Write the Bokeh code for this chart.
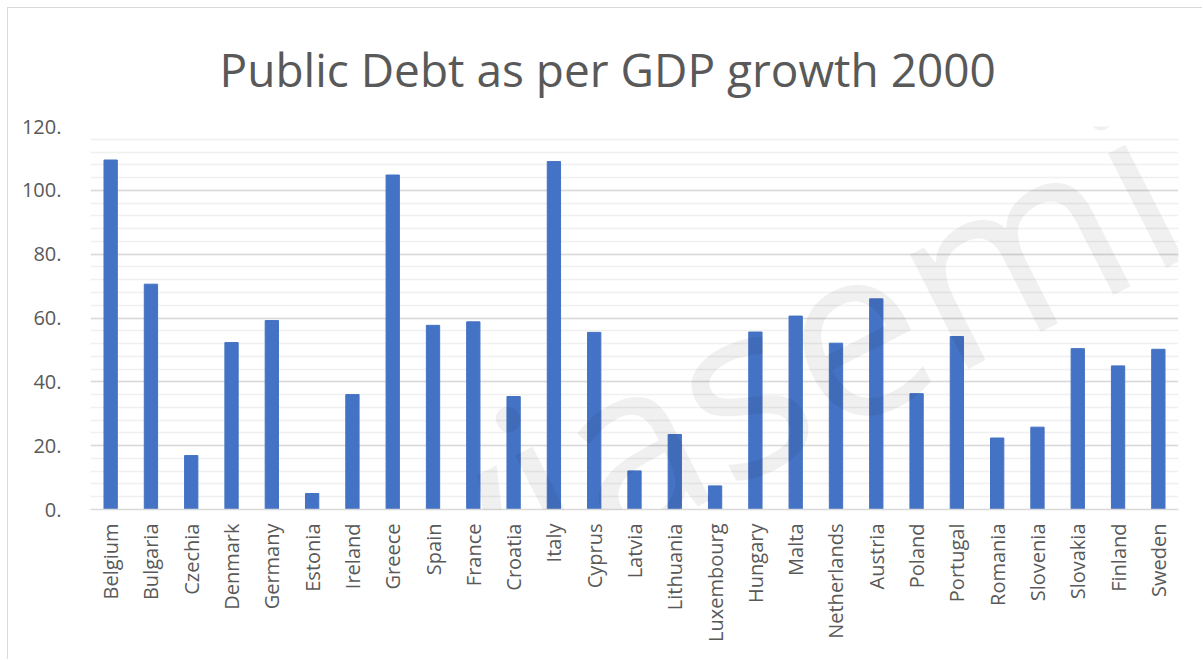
from math import radians
from bokeh.plotting import figure
from bokeh.models import Label, SingleIntervalTicker, FactorRange, Range1d, ColumnDataSource
from bokeh.embed import file_html
from bokeh.resources import INLINE

# ---- data ----
countries = ["Belgium", "Bulgaria", "Czechia", "Denmark", "Germany", "Estonia", "Ireland",
             "Greece", "Spain", "France", "Croatia", "Italy", "Cyprus", "Latvia", "Lithuania",
             "Luxembourg", "Hungary", "Malta", "Netherlands", "Austria", "Poland", "Portugal",
             "Romania", "Slovenia", "Slovakia", "Finland", "Sweden"]
debt = [109.5, 70.6, 16.9, 52.3, 59.2, 5.0, 36.0,
        104.8, 57.7, 58.8, 35.4, 109.0, 55.5, 12.1, 23.5,
        7.4, 55.6, 60.6, 52.1, 66.0, 36.3, 54.2,
        22.4, 25.8, 50.4, 45.0, 50.2]
y_ticks = [0, 20, 40, 60, 80, 100, 120]
y_tick_labels = ["0.", "20.", "40.", "60.", "80.", "100.", "120."]
title_text = "Public Debt as per GDP growth 2000"
watermark_text = "a.yiasemi"

FONT = "Open Sans"
TXT = "#595959"

src = ColumnDataSource(dict(country=countries, debt=debt))

p = figure(x_range=FactorRange(factors=countries, range_padding=0),
           y_range=Range1d(y_ticks[0], y_ticks[-1]),
           width=1195, height=652, output_backend="svg", toolbar_location=None,
           min_border_left=82, min_border_right=25, min_border_top=118, min_border_bottom=151,
           title=title_text)
p.styles = {"margin-left": "7px", "margin-top": "7px",
            "border-left": "1px solid #d9d9d9", "border-top": "1px solid #d9d9d9"}

p.title.align = "left"
p.title.offset = 129
p.title.standoff = 53
p.title.text_font = FONT
p.title.text_font_size = "46px"
p.title.text_font_style = "normal"
p.title.text_color = TXT

p.vbar(x="country", top="debt", width=0.33, source=src,
       fill_color="#4472C4", line_color="#4472C4")

p.background_fill_color = "white"
p.border_fill_color = "white"
p.outline_line_color = None

# axes
p.xaxis.axis_line_color = "#d9d9d9"
p.xaxis.axis_line_width = 1.5
p.xaxis.major_tick_line_color = None
p.xaxis.minor_tick_line_color = None
p.xaxis.major_tick_out = 0
p.xaxis.major_label_standoff = 14
p.xaxis.major_label_orientation = 3.14159265 / 2
p.xaxis.major_label_text_font = FONT
p.xaxis.major_label_text_font_size = "20px"
p.xaxis.major_label_text_color = TXT

ticker = SingleIntervalTicker(interval=20, num_minor_ticks=5)
p.yaxis.ticker = ticker
p.yaxis.axis_line_color = None
p.yaxis.major_tick_line_color = None
p.yaxis.minor_tick_line_color = None
p.yaxis.major_tick_out = 0
p.yaxis.major_label_standoff = 25
p.yaxis.major_label_text_font = FONT
p.yaxis.major_label_text_font_size = "20px"
p.yaxis.major_label_text_color = TXT
p.yaxis.major_label_overrides = {t: l for t, l in zip(y_ticks, y_tick_labels)}

p.xgrid.grid_line_color = None
p.ygrid.ticker = ticker
p.ygrid.grid_line_color = "#d9d9d9"
p.ygrid.grid_line_width = 1.5
p.ygrid.minor_grid_line_color = "#f0f0f0"
p.ygrid.minor_grid_line_width = 1.5

# watermark (frame-relative screen coords)
p.add_layout(Label(x=1069, y=343, x_units="screen", y_units="screen", text=watermark_text,
                   angle=radians(27), text_align="right", text_baseline="alphabetic",
                   text_font=FONT, text_font_size="240px", text_font_style="normal",
                   text_color="black", text_alpha=0.06))

open("out.html", "w").write(file_html(p, INLINE))
